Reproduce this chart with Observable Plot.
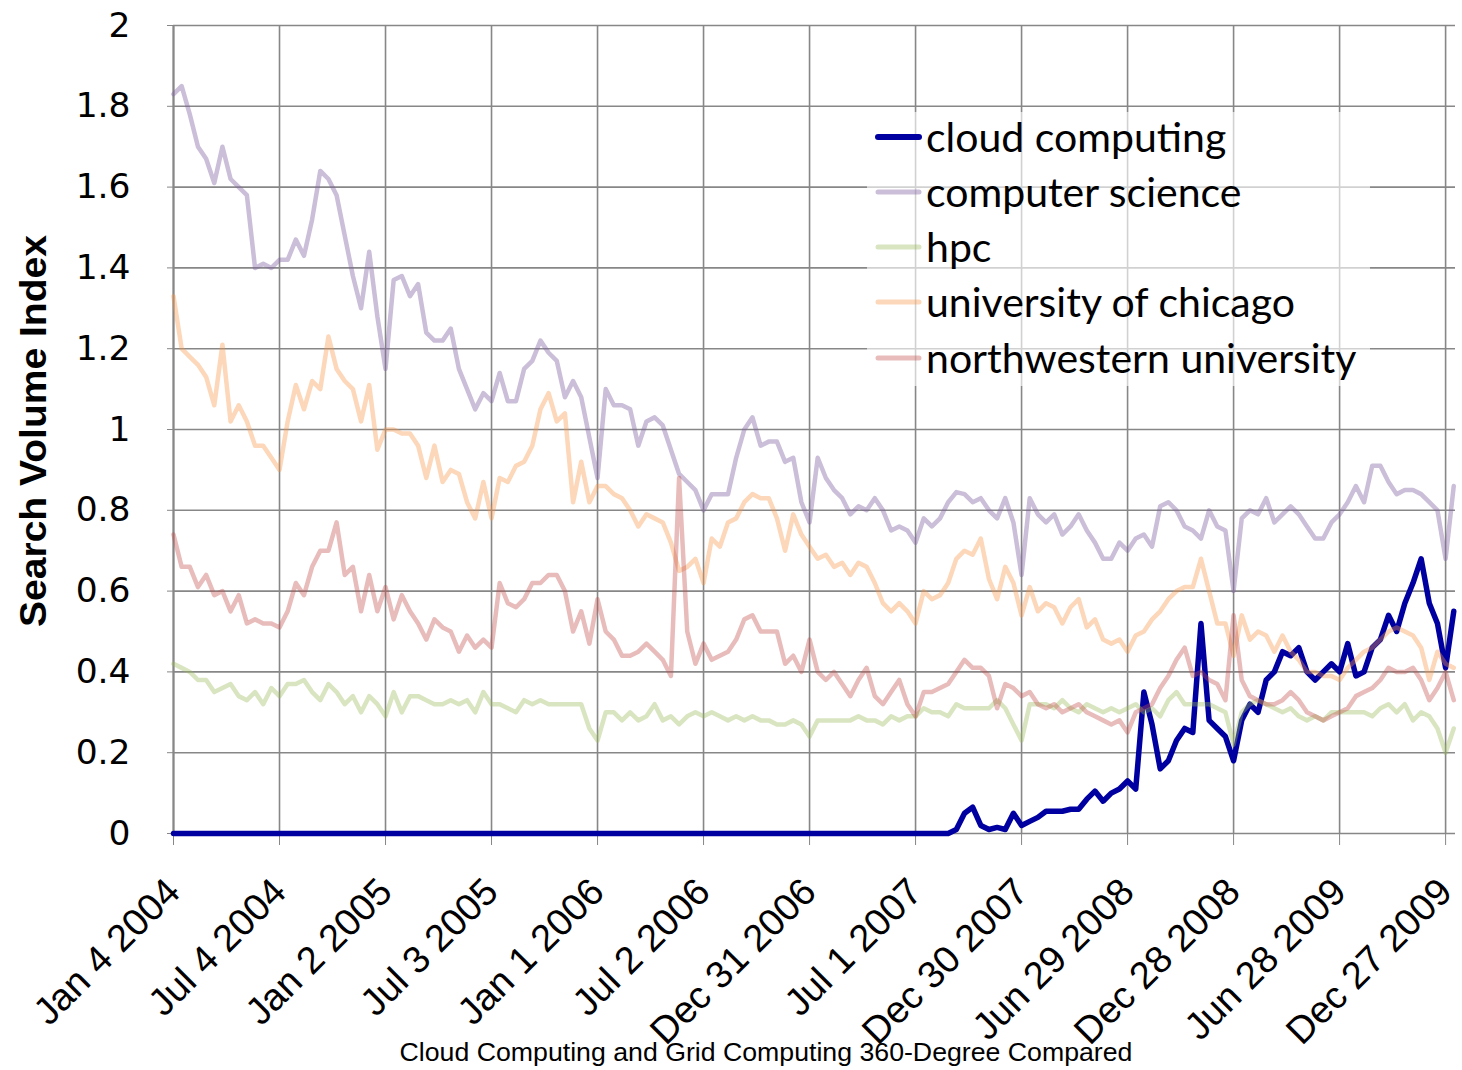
<!DOCTYPE html>
<html><head><meta charset="utf-8">
<script src="https://cdn.jsdelivr.net/npm/d3@7"></script>
<script src="https://cdn.jsdelivr.net/npm/@observablehq/plot@0.6"></script>
<style>
body{margin:0;background:#fff}
#wrap{position:relative;width:1462px;height:1070px;overflow:hidden}
#caption{position:absolute;left:0;width:1462px;top:1037px;padding-left:70px;box-sizing:border-box;text-align:center;font-family:"Liberation Sans",Arial,sans-serif;font-size:26.7px;color:#000}
</style></head>
<body><div id="wrap"><div id="chart"></div><div id="caption">Cloud Computing and Grid Computing 360-Degree Compared</div></div>
<script>
// bi-weekly samples starting Jan 4 2004
const startDate = "2004-01-04";
const stepDays = 14;

const seriesNames = ["cloud computing","computer science","hpc","university of chicago","northwestern university"];

const cloudComputing = [
0,0,0,0,0,0,0,0,0,0,0,0,0,
0,0,0,0,0,0,0,0,0,0,0,0,0,
0,0,0,0,0,0,0,0,0,0,0,0,0,
0,0,0,0,0,0,0,0,0,0,0,0,0,
0,0,0,0,0,0,0,0,0,0,0,0,0,
0,0,0,0,0,0,0,0,0,0,0,0,0,
0,0,0,0,0,0,0,0,0,0,0,0,0,
0,0,0,0,0,0.01,0.05,0.065,0.02,0.01,0.015,0.01,0.05,
0.02,0.03,0.04,0.055,0.055,0.055,0.06,0.06,0.085,0.105,0.08,0.10,0.11,
0.13,0.11,0.35,0.27,0.16,0.18,0.23,0.26,0.25,0.52,0.28,0.26,0.24,
0.18,0.28,0.32,0.30,0.38,0.40,0.45,0.44,0.46,0.40,0.38,0.40,0.42,
0.40,0.47,0.39,0.40,0.46,0.48,0.54,0.50,0.57,0.62,0.68,0.57,0.52,0.41,0.55
];

const computerScience = [
1.83,1.85,1.78,1.70,1.67,1.61,1.70,1.62,1.60,1.58,1.40,1.41,1.40,
1.42,1.42,1.47,1.43,1.52,1.64,1.62,1.58,1.48,1.38,1.30,1.44,1.28,
1.15,1.37,1.38,1.33,1.36,1.24,1.22,1.22,1.25,1.15,1.10,1.05,1.09,
1.07,1.14,1.07,1.07,1.15,1.17,1.22,1.19,1.17,1.08,1.12,1.08,0.98,
0.88,1.10,1.06,1.06,1.05,0.96,1.02,1.03,1.01,0.95,0.89,0.87,0.85,
0.80,0.84,0.84,0.84,0.93,1.00,1.03,0.96,0.97,0.97,0.92,0.93,0.82,
0.77,0.93,0.88,0.85,0.83,0.79,0.81,0.80,0.83,0.80,0.75,0.76,0.75,
0.72,0.78,0.76,0.78,0.82,0.845,0.84,0.82,0.83,0.80,0.78,0.83,0.77,
0.64,0.83,0.79,0.77,0.79,0.74,0.76,0.79,0.75,0.72,0.68,0.68,0.72,
0.70,0.73,0.74,0.71,0.81,0.82,0.80,0.76,0.75,0.73,0.80,0.76,0.75,
0.60,0.78,0.80,0.79,0.83,0.77,0.79,0.81,0.79,0.76,0.73,0.73,0.77,
0.79,0.82,0.86,0.82,0.91,0.91,0.87,0.84,0.85,0.85,0.84,0.82,0.80,0.68,0.86
];

const hpc = [
0.42,0.41,0.40,0.38,0.38,0.35,0.36,0.37,0.34,0.33,0.35,0.32,0.36,
0.34,0.37,0.37,0.38,0.35,0.33,0.37,0.35,0.32,0.34,0.30,0.34,0.32,
0.29,0.35,0.30,0.34,0.34,0.33,0.32,0.32,0.33,0.32,0.33,0.30,0.35,
0.32,0.32,0.31,0.30,0.33,0.32,0.33,0.32,0.32,0.32,0.32,0.32,0.26,
0.23,0.30,0.30,0.28,0.30,0.28,0.29,0.32,0.28,0.29,0.27,0.29,0.30,
0.29,0.30,0.29,0.28,0.29,0.28,0.29,0.28,0.28,0.27,0.27,0.28,0.27,
0.24,0.28,0.28,0.28,0.28,0.28,0.29,0.28,0.28,0.27,0.29,0.28,0.29,
0.29,0.31,0.30,0.30,0.29,0.32,0.31,0.31,0.31,0.31,0.33,0.31,0.27,
0.23,0.32,0.32,0.32,0.31,0.33,0.31,0.30,0.32,0.31,0.30,0.31,0.30,
0.31,0.32,0.30,0.31,0.29,0.33,0.35,0.32,0.32,0.32,0.32,0.31,0.30,
0.22,0.30,0.32,0.33,0.32,0.31,0.30,0.31,0.29,0.28,0.29,0.28,0.30,
0.30,0.30,0.30,0.30,0.29,0.31,0.32,0.30,0.32,0.28,0.30,0.29,0.26,0.20,0.26
];

const universityOfChicago = [
1.33,1.20,1.18,1.16,1.13,1.06,1.21,1.02,1.06,1.02,0.96,0.96,0.93,
0.90,1.02,1.11,1.05,1.12,1.10,1.23,1.15,1.12,1.10,1.02,1.11,0.95,
1.00,1.00,0.99,0.99,0.96,0.88,0.96,0.87,0.90,0.89,0.82,0.78,0.87,
0.78,0.88,0.87,0.91,0.92,0.96,1.05,1.09,1.02,1.04,0.82,0.92,0.82,
0.86,0.86,0.84,0.83,0.80,0.76,0.79,0.78,0.77,0.72,0.65,0.66,0.68,
0.62,0.73,0.71,0.77,0.78,0.82,0.84,0.83,0.83,0.78,0.70,0.79,0.74,
0.71,0.68,0.69,0.66,0.67,0.64,0.67,0.66,0.62,0.57,0.55,0.57,0.55,
0.52,0.60,0.58,0.59,0.62,0.68,0.70,0.69,0.73,0.63,0.58,0.66,0.62,
0.54,0.61,0.55,0.57,0.56,0.52,0.56,0.58,0.51,0.53,0.48,0.47,0.48,
0.45,0.49,0.50,0.53,0.55,0.58,0.60,0.61,0.61,0.68,0.60,0.52,0.52,
0.44,0.54,0.48,0.50,0.49,0.45,0.49,0.45,0.43,0.40,0.40,0.39,0.39,
0.38,0.41,0.43,0.45,0.46,0.48,0.50,0.51,0.50,0.49,0.46,0.38,0.45,0.42,0.41
];

const northwesternUniversity = [
0.74,0.66,0.66,0.61,0.64,0.59,0.60,0.55,0.59,0.52,0.53,0.52,0.52,
0.51,0.55,0.62,0.59,0.66,0.70,0.70,0.77,0.64,0.66,0.55,0.64,0.55,
0.61,0.53,0.59,0.55,0.52,0.48,0.53,0.51,0.50,0.45,0.49,0.46,0.48,
0.46,0.62,0.57,0.56,0.58,0.62,0.62,0.64,0.64,0.60,0.50,0.55,0.47,
0.58,0.50,0.48,0.44,0.44,0.45,0.47,0.45,0.43,0.39,0.88,0.50,0.42,
0.47,0.43,0.44,0.45,0.48,0.53,0.54,0.50,0.50,0.50,0.42,0.44,0.40,
0.48,0.40,0.38,0.40,0.37,0.34,0.38,0.41,0.34,0.32,0.35,0.38,0.32,
0.29,0.35,0.35,0.36,0.37,0.40,0.43,0.41,0.41,0.39,0.31,0.37,0.36,
0.34,0.35,0.32,0.31,0.32,0.30,0.31,0.32,0.30,0.29,0.28,0.27,0.28,
0.25,0.30,0.31,0.32,0.36,0.39,0.43,0.46,0.39,0.40,0.38,0.37,0.33,
0.54,0.38,0.34,0.33,0.32,0.32,0.33,0.35,0.33,0.30,0.29,0.28,0.29,
0.30,0.31,0.34,0.35,0.36,0.38,0.41,0.40,0.40,0.41,0.38,0.33,0.36,0.40,0.33
];

const tickDates = ["2004-01-04","2004-07-04","2005-01-02","2005-07-03","2006-01-01","2006-07-02","2006-12-31","2007-07-01","2007-12-30","2008-06-29","2008-12-28","2009-06-28","2009-12-27"];
const tickLabels = ["Jan 4 2004","Jul 4 2004","Jan 2 2005","Jul 3 2005","Jan 1 2006","Jul 2 2006","Dec 31 2006","Jul 1 2007","Dec 30 2007","Jun 29 2008","Dec 28 2008","Jun 28 2009","Dec 27 2009"];
const yTicks = [0,0.2,0.4,0.6,0.8,1,1.2,1.4,1.6,1.8,2];

const colors = ["#0000a0","#8064a2","#9bbb59","#f79646","#c0504d"];
const opacities = [1,0.42,0.38,0.38,0.38];
const widths = [5.5,4.5,4.5,4.5,4.5];

const seriesValues = [cloudComputing, computerScience, hpc, universityOfChicago, northwesternUniversity];
const t0 = new Date(startDate + "T00:00:00Z").getTime();
const seriesData = seriesValues.map((vals, s) => vals.map((v, i) => ({series: seriesNames[s], date: new Date(t0 + i*stepDays*864e5), value: v})));

const tickDateObjs = tickDates.map(d => new Date(d + "T00:00:00Z"));
const labelMap = new Map(tickDateObjs.map((d,i) => [+d, tickLabels[i]]));

const grid = "#878787";
const chart = Plot.plot({
  width: 1462, height: 1070,
  marginLeft: 173, marginRight: 7, marginTop: 25, marginBottom: 237,
  x: {type: "utc", domain: [new Date("2004-01-04T00:00:00Z"), new Date("2010-01-13T00:00:00Z")]},
  y: {domain: [0, 2]},
  style: {background: "white"},
  marks: [
    Plot.gridY(yTicks, {stroke: grid, strokeOpacity: 1, strokeWidth: 1.6}),
    Plot.gridX(tickDateObjs, {stroke: grid, strokeOpacity: 1, strokeWidth: 1.6}),
    Plot.ruleX([tickDateObjs[0]], {stroke: grid, strokeWidth: 2}),
    Plot.axisY(yTicks, {tickSize: 6, stroke: grid, tickPadding: 37, fontSize: 34.5, fontFamily: "DejaVu Sans", fill: "#000", tickFormat: d => String(Math.round(d*10)/10), label: null}),
    Plot.axisX(tickDateObjs, {tickSize: 12, stroke: grid, tickRotate: -45, tickPadding: 40, fontSize: 38, fontFamily: "Liberation Sans", fill: "#000", tickFormat: d => labelMap.get(+d), label: null}),
    ...seriesData.map((d, s) => Plot.line(d, {x: "date", y: "value", stroke: colors[s], strokeOpacity: opacities[s], strokeWidth: widths[s], strokeLinejoin: "round", strokeLinecap: "round"}))
  ]
});
document.getElementById("chart").appendChild(chart);

// y-axis title and in-plot legend
const svg = d3.select(chart);
svg.append("text")
  .attr("transform", "translate(46,431) rotate(-90)")
  .attr("text-anchor", "middle")
  .attr("font-family", "Liberation Sans, Arial, sans-serif")
  .attr("font-weight", "bold").attr("font-size", 36).attr("fill", "#000")
  .attr("textLength", 392).attr("lengthAdjust", "spacingAndGlyphs")
  .text("Search Volume Index");

const lg = svg.append("g");
lg.append("rect").attr("x", 867).attr("y", 112).attr("width", 503).attr("height", 274).attr("fill", "white").attr("fill-opacity", 0.62);
const rowY = [137, 192, 247, 302, 358];
seriesNames.forEach((name, s) => {
  lg.append("line").attr("x1", 878).attr("x2", 919).attr("y1", rowY[s]).attr("y2", rowY[s])
    .attr("stroke", colors[s]).attr("stroke-opacity", opacities[s]).attr("stroke-width", s === 0 ? 6 : 5).attr("stroke-linecap", "round");
  lg.append("text").attr("x", 926).attr("y", rowY[s]).attr("dy", "0.36em").attr("text-anchor", "start")
    .attr("font-family", "Lato, sans-serif").attr("font-size", 41).attr("fill", "#000").text(name);
});
</script>
</body></html>
